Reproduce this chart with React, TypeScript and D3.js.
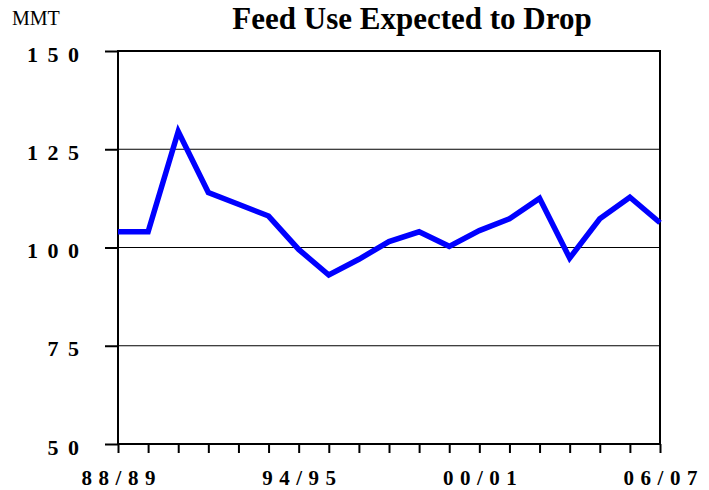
import React, { useEffect, useRef } from "react";
import { select, scalePoint, scaleLinear, axisLeft, axisBottom, line } from "d3";

const years = [
  "88/89", "89/90", "90/91", "91/92", "92/93", "93/94", "94/95", "95/96", "96/97", "97/98",
  "98/99", "99/00", "00/01", "01/02", "02/03", "03/04", "04/05", "05/06", "06/07",
];
const feedUse = [
  104, 104, 129.5, 114, 111, 108, 99.5, 93, 97, 101.5,
  104, 100.3, 104.3, 107.3, 112.5, 97.3, 107.3, 112.8, 106.3,
];
const yTicks = [50, 75, 100, 125, 150];
const labeledYears = ["88/89", "94/95", "00/01", "06/07"];

const width = 709;
const height = 490;
const left = 118;
const right = 660;
const top = 51;
const bottom = 444;
const serif = "'Liberation Serif', 'Times New Roman', serif";

function App() {
  const svgRef = useRef<SVGSVGElement>(null);

  useEffect(() => {
    const svg = select(svgRef.current);

    const xScale = scalePoint<string>().domain(years).range([left, right]);
    const yScale = scaleLinear().domain([50, 150]).range([bottom, top]);

    // gridlines
    svg
      .select(".grid")
      .selectAll("line")
      .data(yTicks.filter(t => t !== 50 && t !== 150))
      .join("line")
      .attr("x1", left)
      .attr("x2", right)
      .attr("y1", d => yScale(d))
      .attr("y2", d => yScale(d))
      .attr("stroke", "#000")
      .attr("stroke-width", 1);

    // y axis
    const yAxis = axisLeft(yScale).tickValues(yTicks).tickSize(13).tickPadding(27);
    const yg = svg.select<SVGGElement>(".y-axis").attr("transform", `translate(${left},0)`).call(yAxis);
    yg.select(".domain").remove();
    yg.selectAll(".tick line").attr("stroke", "#000").attr("stroke-width", 2);
    yg.selectAll(".tick text")
      .attr("font-family", serif)
      .attr("font-size", 22)
      .attr("font-weight", "bold")
      .attr("fill", "#000")
      .attr("letter-spacing", 9.5)
      .attr("dx", 10.5)
      .attr("dy", 10);

    // x axis
    const xAxis = axisBottom(xScale)
      .tickSize(9)
      .tickFormat(d => (labeledYears.includes(d) ? d : ""));
    const xg = svg.select<SVGGElement>(".x-axis").attr("transform", `translate(0,${bottom})`).call(xAxis);
    xg.select(".domain").remove();
    xg.selectAll(".tick line").attr("stroke", "#000").attr("stroke-width", 2);
    xg.selectAll(".tick text")
      .attr("font-family", serif)
      .attr("font-size", 21)
      .attr("font-weight", "bold")
      .attr("fill", "#000")
      .attr("letter-spacing", 6.5)
      .attr("dx", 3.25)
      .attr("y", 41)
      .attr("dy", 0);

    // frame
    svg
      .select(".frame")
      .attr("x", left)
      .attr("y", top)
      .attr("width", right - left)
      .attr("height", bottom - top)
      .attr("fill", "none")
      .attr("stroke", "#000")
      .attr("stroke-width", 2);

    // series
    const lineGen = line<number>()
      .x((_, i) => xScale(years[i]) as number)
      .y(d => yScale(d));
    svg
      .select(".series")
      .datum(feedUse)
      .attr("d", lineGen)
      .attr("fill", "none")
      .attr("stroke", "#0000ff")
      .attr("stroke-width", 5.5)
      .attr("stroke-linejoin", "miter");
  }, []);

  return (
    <div style={{ position: "absolute", left: 0, top: 0 }}>
      <svg ref={svgRef} width={width} height={height} style={{ display: "block", background: "#fff" }}>
        <g className="grid" />
        <rect className="frame" />
        <g className="y-axis" />
        <g className="x-axis" />
        <path className="series" />
        <text x={412} y={29} textAnchor="middle" fontFamily={serif} fontSize={31} fontWeight="bold">
          Feed Use Expected to Drop
        </text>
        <text x={12} y={25} fontFamily={serif} fontSize={20}>
          MMT
        </text>
      </svg>
    </div>
  );
}

export default App;
